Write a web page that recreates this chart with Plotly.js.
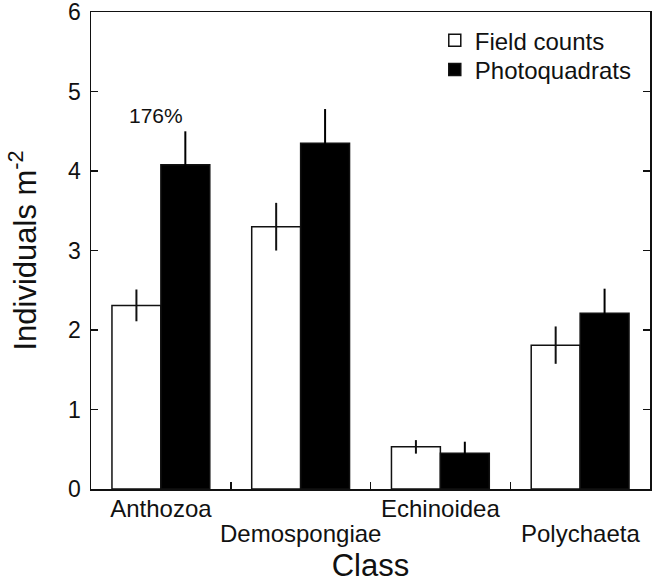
<!DOCTYPE html>
<html>
<head>
<meta charset="utf-8">
<script src="https://cdn.plot.ly/plotly-3.0.1.min.js"></script>
<style>html,body{margin:0;padding:0;background:#fff;}#chart{width:653px;height:584px;}</style>
</head>
<body>
<div id="chart"></div>
<script>
const categories = ['Anthozoa', 'Demospongiae', 'Echinoidea', 'Polychaeta'];
const fieldCounts = [2.31, 3.30, 0.53, 1.81];
const fieldErr = [0.20, 0.30, 0.085, 0.235];
const photoquadrats = [4.08, 4.35, 0.45, 2.21];
const photoErr = [0.42, 0.43, 0.145, 0.31];
const yTicks = [0, 1, 2, 3, 4, 5, 6];
const noteText = '176%';
const noteY = 4.70;

const FONT = 'Liberation Sans, Arial, Helvetica, sans-serif';
// staggered category labels: even-indexed on the axis row, odd-indexed on a second row below
const upperText = categories.map((c, i) => (i % 2 ? '' : c));
const lowerCats = categories.filter((c, i) => i % 2);

const traces = [
  {
    type: 'bar', name: 'Field counts', x: categories, y: fieldCounts, legend: 'legend',
    marker: {color: '#ffffff', line: {color: '#111', width: 1.5}},
    error_y: {type: 'data', array: fieldErr, visible: true, color: '#111', thickness: 2, width: 0}
  },
  {
    type: 'bar', name: 'Photoquadrats', x: categories, y: photoquadrats, legend: 'legend2',
    marker: {color: '#000000', line: {color: '#111', width: 1.5}},
    error_y: {type: 'data', array: photoErr, visible: true, color: '#000', thickness: 2, width: 0}
  }
];

const legendBase = {
  x: 0.615, xanchor: 'left', yanchor: 'top',
  font: {size: 24, family: FONT, color: '#111'},
  bgcolor: 'rgba(0,0,0,0)', borderwidth: 0, tracegroupgap: 0
};

const annotations = [
  {x: categories[0], y: noteY, xref: 'x', yref: 'y', text: noteText, showarrow: false,
   xshift: -5, font: {size: 21, family: FONT, color: '#111'}}
].concat(lowerCats.map(c => ({
  x: c, y: 0, xref: 'x', yref: 'paper', yanchor: 'middle', yshift: -44,
  text: c, showarrow: false, font: {size: 24, family: FONT, color: '#111'}
})));

const layout = {
  width: 653, height: 584,
  margin: {l: 91, r: 3, t: 12, b: 95},
  paper_bgcolor: '#fff', plot_bgcolor: '#fff',
  font: {family: FONT, color: '#111'},
  barmode: 'group', bargap: 0.3, bargroupgap: 0,
  showlegend: true,
  legend: Object.assign({}, legendBase, {y: 0.987}),
  legend2: Object.assign({}, legendBase, {y: 0.926}),
  xaxis: {
    type: 'category', range: [-0.5, 3.5],
    tickvals: categories, ticktext: upperText, tickangle: 0,
    ticks: 'inside', tickson: 'boundaries', ticklen: 7, tickwidth: 1.5, tickcolor: '#111',
    showline: true, linecolor: '#111', linewidth: 1.5, mirror: true,
    showgrid: false, zeroline: false, ticklabelstandoff: -2,
    tickfont: {size: 24, family: FONT, color: '#111'},
    title: {text: 'Class', font: {size: 31, family: FONT, color: '#111'}, standoff: 33}
  },
  yaxis: {
    range: [0, 6.001], tickvals: yTicks, ticklabeloverflow: 'allow',
    ticks: 'inside', ticklen: 7, tickwidth: 1.5, tickcolor: '#111',
    showline: true, linecolor: '#111', linewidth: 1.5, mirror: 'ticks',
    showgrid: false, zeroline: false, ticklabelstandoff: 4,
    tickfont: {size: 23, family: FONT, color: '#111'},
    title: {text: 'Individuals m<sup>-2</sup>', font: {size: 31, family: FONT, color: '#111'}, standoff: 22}
  },
  annotations: annotations
};

Plotly.newPlot('chart', traces, layout, {displayModeBar: false, staticPlot: true});
</script>
</body>
</html>
